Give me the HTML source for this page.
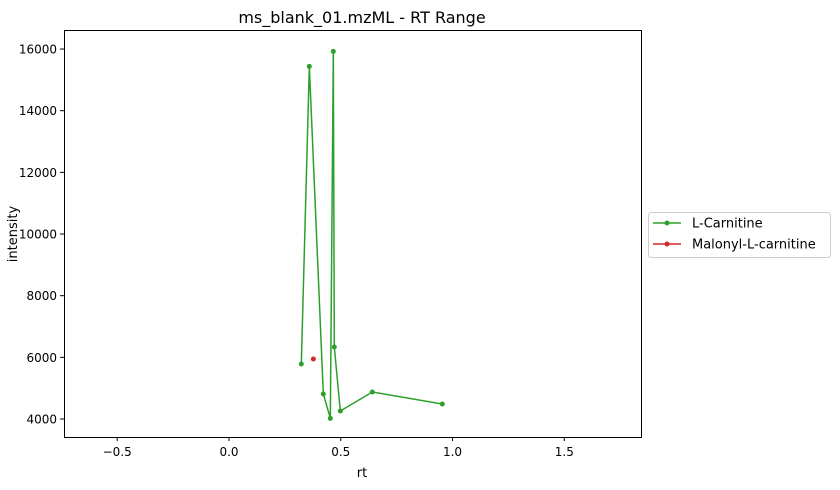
<!DOCTYPE html>
<html><head><meta charset="utf-8"><style>
body{margin:0;background:#fff;}
svg{display:block;font-family:"DejaVu Sans","Liberation Sans",sans-serif;}
</style></head><body>
<svg id="chart" width="840" height="490" viewBox="0 0 840 490">
<rect x="0" y="0" width="840" height="490" fill="#fff"/>
<text x="362" y="23" text-anchor="middle" font-size="16">ms_blank_01.mzML - RT Range</text>
<g id="xticks"></g>
<g id="yticks"></g>
<g id="series"></g>
<rect x="64.5" y="30.5" width="577" height="407" fill="none" stroke="#000" stroke-width="1"/>
<text x="362" y="477" text-anchor="middle" font-size="13">rt</text>
<text transform="translate(17,234) rotate(-90)" text-anchor="middle" font-size="13">intensity</text>
<g>
<rect x="648.5" y="212.5" width="182" height="45" rx="3" fill="#fff" stroke="#ccc"/>
<g>
<line x1="653" y1="223" x2="681" y2="223" stroke="#2ca02c" stroke-width="1.5"/><circle cx="667" cy="223" r="2.5" fill="#2ca02c"/>
<text x="692" y="227.5" font-size="13">L-Carnitine</text></g>
<g>
<line x1="653" y1="244" x2="681" y2="244" stroke="#d62728" stroke-width="1.5"/><circle cx="667" cy="244" r="2.5" fill="#d62728"/>
<text x="692" y="248.5" font-size="13">Malonyl-L-carnitine</text></g>
</g>
</svg>
<script>
const xTicks=[-0.5,0.0,0.5,1.0,1.5];
const yTicks=[4000,6000,8000,10000,12000,14000,16000];
const carnitineRt=[0.3235,0.3594,0.4220,0.4533,0.4667,0.4711,0.4980,0.6412,0.9542];
const carnitineIntensity=[5784,15438,4811,4022,15924,6335,4260,4876,4487];
const malonylRt=[0.3775];
const malonylIntensity=[5946];
const X0=64,X1=641,Y0=437,Y1=30,xmin=-0.738,xmax=1.843,ymin=3416,ymax=16618;
const sx=v=>X0+(v-xmin)/(xmax-xmin)*(X1-X0);
const sy=v=>Y0-(v-ymin)/(ymax-ymin)*(Y0-Y1);
const NS="http://www.w3.org/2000/svg";
function mk(t,a,p){const e=document.createElementNS(NS,t);for(const k in a)e.setAttribute(k,a[k]);p.appendChild(e);return e;}
const gx=document.getElementById('xticks'),gy=document.getElementById('yticks'),gs=document.getElementById('series');
xTicks.forEach(v=>{const x=sx(v);
const l=mk('line',{x1:x,y1:437,x2:x,y2:441,stroke:'#000'},gx);


const t=mk('text',{x:x,y:456,'text-anchor':'middle','font-size':'12'},gx);t.textContent=v.toFixed(1).replace('-','\u2212');

});
yTicks.forEach(v=>{const y=sy(v);
const l=mk('line',{x1:60,y1:y,x2:64,y2:y,stroke:'#000'},gy);


const t=mk('text',{x:57,y:y+4.5,'text-anchor':'end','font-size':'12'},gy);t.textContent=v;

});
function series(xs,ys,c,name){
const pts=xs.map((x,i)=>sx(x)+','+sy(ys[i])).join(' ');
const pl=mk('polyline',{points:pts,fill:'none',stroke:c,'stroke-width':'1.5'},gs);


xs.forEach((x,i)=>{const c2=mk('circle',{cx:sx(x),cy:sy(ys[i]),r:2.5,fill:c},gs);

});}
series(carnitineRt,carnitineIntensity,'#2ca02c','l-carnitine');
series(malonylRt,malonylIntensity,'#d62728','malonyl-l-carnitine');
</script>
</body></html>
